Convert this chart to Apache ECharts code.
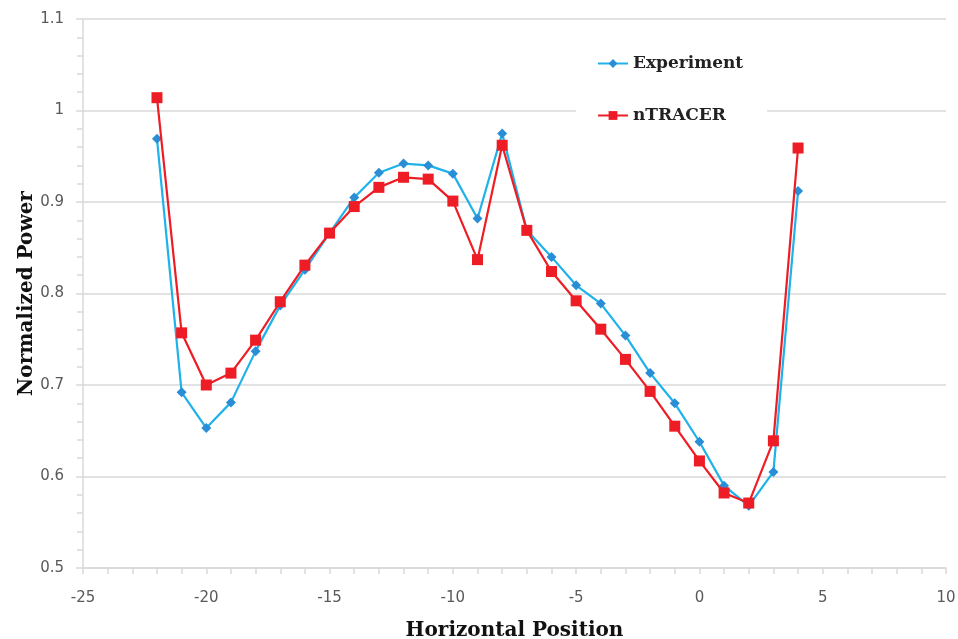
<!DOCTYPE html>
<html>
<head>
<meta charset="utf-8">
<script src="https://cdn.jsdelivr.net/npm/echarts@6/dist/echarts.min.js"></script>
<style>
  html, body { margin: 0; padding: 0; background: #fff; }
  #chart { width: 958px; height: 639px; }
</style>
</head>
<body>
<div id="chart"></div>
<script>
// Horizontal positions of the measured / calculated points
const positions = [-22, -21, -20, -19, -18, -17, -16, -15, -14, -13, -12, -11, -10, -9, -8, -7, -6, -5, -4, -3, -2, -1, 0, 1, 2, 3, 4];

// Measured normalized power
const experiment = [0.969, 0.692, 0.653, 0.681, 0.737, 0.787, 0.826, 0.866, 0.905, 0.932, 0.942, 0.940, 0.931, 0.882, 0.975, 0.869, 0.840, 0.809, 0.789, 0.754, 0.713, 0.680, 0.638, 0.590, 0.568, 0.605, 0.912];

// nTRACER calculated normalized power
const ntracer = [1.014, 0.757, 0.700, 0.713, 0.749, 0.791, 0.831, 0.866, 0.895, 0.916, 0.927, 0.925, 0.901, 0.837, 0.962, 0.869, 0.824, 0.792, 0.761, 0.728, 0.693, 0.655, 0.617, 0.582, 0.571, 0.639, 0.959];

const seriesNames = ['Experiment', 'nTRACER'];

const pairs = (ys) => positions.map((x, i) => [x, ys[i]]);

const axisGray = '#d9d9d9';
const labelStyle = { color: '#595959', fontFamily: 'DejaVu Sans', fontSize: 15 };

const chart = echarts.init(document.getElementById('chart'), null, { renderer: 'canvas' });

chart.setOption({
  backgroundColor: '#ffffff',
  animation: false,
  grid: { left: 83, right: 12, top: 19, bottom: 71, containLabel: false, outerBoundsMode: 'none' },
  legend: {
    orient: 'vertical',
    left: 576,
    top: 47,
    itemWidth: 30,
    itemHeight: 11,
    itemGap: 35,
    padding: [8, 24, 10, 21],
    backgroundColor: '#ffffff',
    textStyle: { fontFamily: 'DejaVu Serif', fontWeight: 'bold', fontSize: 17, color: '#222' },
    data: seriesNames
  },
  xAxis: {
    type: 'value',
    min: -25,
    max: 10,
    interval: 5,
    name: 'Horizontal Position',
    nameLocation: 'middle',
    nameGap: 53,
    nameMoveOverlap: false,
    nameTextStyle: { fontFamily: 'DejaVu Serif', fontWeight: 'bold', fontSize: 20, color: '#111' },
    axisLine: { onZero: false, lineStyle: { color: axisGray, width: 1.5 } },
    axisTick: { show: true, length: 6, lineStyle: { color: axisGray, width: 1.5 } },
    minorTick: { show: true, splitNumber: 5, length: 6, lineStyle: { color: axisGray, width: 1.5 } },
    splitLine: { show: false },
    axisLabel: Object.assign({ margin: 23 }, labelStyle)
  },
  yAxis: {
    type: 'value',
    min: 0.5,
    max: 1.1,
    interval: 0.1,
    name: 'Normalized Power',
    nameLocation: 'middle',
    nameGap: 46,
    nameMoveOverlap: false,
    nameTextStyle: { fontFamily: 'DejaVu Serif', fontWeight: 'bold', fontSize: 20, color: '#111' },
    axisLine: { show: true, onZero: false, lineStyle: { color: axisGray, width: 1.5 } },
    axisTick: { show: true, length: 7, lineStyle: { color: axisGray, width: 1.5 } },
    minorTick: { show: true, splitNumber: 5, length: 6, lineStyle: { color: axisGray, width: 1.5 } },
    splitLine: { show: true, lineStyle: { color: axisGray, width: 1.5 } },
    axisLabel: Object.assign({
      margin: 19,
      formatter: (v) => String(+v.toFixed(2))
    }, labelStyle)
  },
  series: [
    {
      name: seriesNames[0],
      type: 'line',
      data: pairs(experiment),
      symbol: 'diamond',
      symbolSize: 10,
      lineStyle: { color: '#1fb2ea', width: 2.2 },
      itemStyle: { color: '#2a8ed6' },
      z: 2
    },
    {
      name: seriesNames[1],
      type: 'line',
      data: pairs(ntracer),
      symbol: 'rect',
      symbolSize: 11,
      lineStyle: { color: '#ee1c24', width: 2.2 },
      itemStyle: { color: '#ee1c24' },
      z: 3
    }
  ]
});
</script>
</body>
</html>
